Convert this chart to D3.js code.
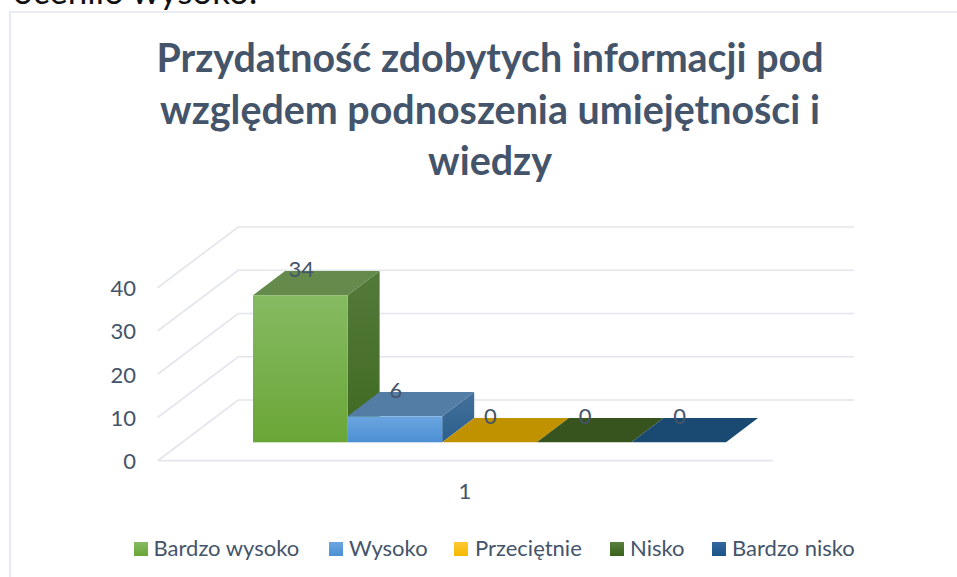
<!DOCTYPE html>
<html><head><meta charset="utf-8">
<script src="https://cdn.jsdelivr.net/npm/d3@7"></script>
<style>html,body{margin:0;padding:0;background:#fff;overflow:hidden}svg{display:block}text{font-family:Lato,"Open Sans",sans-serif}</style>
</head><body><svg id="c" width="957" height="577"></svg>
<script>
const titleLines = ["Przydatność zdobytych informacji pod","względem podnoszenia umiejętności i","wiedzy"];
const introText = "ocenilo wysoko:";
const categories = ["Bardzo wysoko","Wysoko","Przeciętnie","Nisko","Bardzo nisko"];
const values = [34,6,0,0,0];
const yTicks = [0,10,20,30,40];
const categoryLabel = "1";
const frontStops = [["#86ba62","#6aa637"],["#6ba5e0","#4b90d3"],["#ffc832","#f4ba00"],["#5a8040","#3a6219"],["#35689f","#1b5389"]];
const topColors = ["#648b4b","#547da5","#c09200","#37541e","#1a4971"];
const sideStops = [["#547a3a","#3f6a22"],["#44719b","#2b5f8d"],["#c09200","#c09200"],["#37541e","#37541e"],["#1a4971","#1a4971"]];
const legendSwatchX = [134,329,454,610,712];
const legendTextX = [153.5,349,475,630,732];

const svg = d3.select("#c");
const ink = "#44546a", gridC = "#e3e6ec";
const defs = svg.append("defs");
function grad(id,[a,b]){const g=defs.append("linearGradient").attr("id",id).attr("x1",0).attr("y1",0).attr("x2",0).attr("y2",1);
  g.append("stop").attr("offset",0).attr("stop-color",a);g.append("stop").attr("offset",1).attr("stop-color",b);}
frontStops.forEach((s,i)=>grad("f"+i,s));
sideStops.forEach((s,i)=>grad("s"+i,s));

// frame and clipped text above it
svg.append("text").attr("x",13).attr("y",3.5).attr("font-size",35).attr("fill","#111").text(introText);
svg.append("path").attr("d","M10,577V12H957").attr("fill","none").attr("stroke","#e2e6ee").attr("stroke-width",1.6);

// title
svg.append("g").selectAll("text").data(titleLines).join("text")
  .attr("x",490).attr("y",(d,i)=>72+i*51.7).attr("text-anchor","middle")
  .attr("font-size",39.4).attr("font-weight",700).attr("fill",ink).text(d=>d);

// scales
const y = d3.scaleLinear().domain([0,40]).range([460.7,287.7]);
const wallDx = 80.6, wallDy = -60.7, wallRight = 854, floorRight = 773, floorLeft = 157.6;
const x = d3.scaleBand().domain(categories).range([253,726]);
const barBase = 442.3, depthX = 32, depthY = -24.3;
const h = v => y(0)-y(v);

// grid
const g = svg.append("g").attr("fill","none").attr("stroke",gridC).attr("stroke-width",1.7);
yTicks.forEach(t=>{
  g.append("path").attr("d",d3.line()([[floorLeft,y(t)],[floorLeft+wallDx,y(t)+wallDy],[wallRight,y(t)+wallDy]]));
});
g.append("path").attr("d",d3.line()([[floorLeft,y(0)],[floorRight,y(0)]]));

// y axis labels
const ax = svg.append("g").attr("transform","translate(136,0)")
  .call(d3.axisLeft(y).tickValues(yTicks).tickSize(0).tickPadding(0));
ax.select(".domain").remove();
ax.selectAll("text").attr("font-size",22).attr("fill",ink).attr("font-family","Lato").attr("dy","0.36em");

// bars
const line = d3.line();
const bars = svg.append("g").selectAll("g").data(categories).join("g");
bars.each(function(c,i){
  const sel=d3.select(this), x0=x(c), x1=x0+x.bandwidth(), top=barBase-h(values[i]);
  sel.append("path").attr("d",line([[x1,top],[x1+depthX,top+depthY],[x1+depthX,barBase+depthY],[x1,barBase]])+"Z").attr("fill",`url(#s${i})`);
  sel.append("path").attr("d",line([[x0,top],[x0+depthX,top+depthY],[x1+depthX,top+depthY],[x1,top]])+"Z").attr("fill",topColors[i]);
  if(values[i]>0) sel.append("rect").attr("x",x0).attr("y",top).attr("width",x.bandwidth()).attr("height",h(values[i])).attr("fill",`url(#f${i})`);
});
// data labels
svg.append("g").selectAll("text").data(categories).join("text")
  .attr("x",c=>x(c)+x.bandwidth()/2+1).attr("y",(c,i)=>barBase-h(values[i])+depthY+6)
  .attr("text-anchor","middle").attr("font-size",22).attr("fill",ink)
  .text((c,i)=>values[i]);

// category label
svg.append("text").attr("x",465).attr("y",499).attr("text-anchor","middle").attr("font-size",22).attr("fill",ink).text(categoryLabel);

// legend
const leg = svg.append("g");
categories.forEach((c,i)=>{
  leg.append("rect").attr("x",legendSwatchX[i]).attr("y",542).attr("width",14).attr("height",14).attr("fill",`url(#f${i})`);
  leg.append("text").attr("x",legendTextX[i]).attr("y",556).attr("font-size",22).attr("fill",ink).text(c);
});
</script></body></html>
